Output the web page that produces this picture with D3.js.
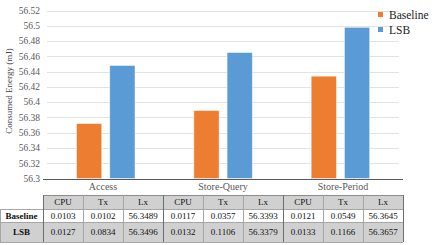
<!DOCTYPE html>
<html>
<head>
<meta charset="utf-8">
<script src="https://cdn.jsdelivr.net/npm/d3@7"></script>
<style>
  body { margin: 0; background: #fff; }
  svg text { font-family: "Times New Roman", "Liberation Serif", "DejaVu Serif", serif; }
</style>
</head>
<body>
<div id="chart"></div>
<script>
const categories = ["Access", "Store-Query", "Store-Period"];
const series = ["Baseline", "LSB"];
const baselineEnergy = [56.372, 56.389, 56.434];
const lsbEnergy = [56.448, 56.465, 56.498];
const yTicks = [56.3, 56.32, 56.34, 56.36, 56.38, 56.4, 56.42, 56.44, 56.46, 56.48, 56.5, 56.52];
const columns = ["CPU", "Tx", "Lx"];
const baselineTable = [["0.0103", "0.0102", "56.3489"], ["0.0117", "0.0357", "56.3393"], ["0.0121", "0.0549", "56.3645"]];
const lsbTable = [["0.0127", "0.0834", "56.3496"], ["0.0132", "0.1106", "56.3379"], ["0.0133", "0.1166", "56.3657"]];

const colors = { Baseline: "#ED7D31", LSB: "#5B9BD5" };
const width = 436, height = 245;
const serif = "'Liberation Serif', 'Times New Roman', 'DejaVu Serif', serif";

const svg = d3.select("#chart").append("svg")
  .attr("width", width)
  .attr("height", height)
  .attr("font-family", serif);

const y = d3.scaleLinear().domain([56.3, 56.52]).range([178.5, 10.5]);
const x = d3.scaleBand().domain(categories).range([47, 399]);
const xs = d3.scaleBand().domain(series).range([29.5, 88]).paddingInner(0.24);

// gridlines
svg.append("g")
  .selectAll("line")
  .data(yTicks.slice(1))
  .join("line")
  .attr("x1", 47).attr("x2", 399)
  .attr("y1", d => Math.round(y(d)) + 0.5)
  .attr("y2", d => Math.round(y(d)) + 0.5)
  .attr("stroke", "#e3e3e3")
  .attr("stroke-width", 1);

// tick labels
svg.append("g")
  .selectAll("text")
  .data(yTicks)
  .join("text")
  .attr("x", 40)
  .attr("y", d => y(d))
  .attr("dy", "0.35em")
  .attr("text-anchor", "end")
  .attr("fill", "#595959")
  .style("font-size", "9.5px")
  .text(d => String(+d.toFixed(2)));

svg.append("text")
  .attr("transform", "translate(12,91) rotate(-90)")
  .attr("text-anchor", "middle")
  .attr("fill", "#404040")
  .style("font-size", "9px")
  .text("Consumed Energy (mJ)");

// bars
const rows = categories.map((c, i) => ({ cat: c, Baseline: baselineEnergy[i], LSB: lsbEnergy[i] }));
const grp = svg.append("g")
  .selectAll("g")
  .data(rows)
  .join("g")
  .attr("transform", d => `translate(${x(d.cat)},0)`);

grp.selectAll("rect")
  .data(d => series.map(s => ({ s, v: d[s] })))
  .join("rect")
  .attr("x", d => xs(d.s))
  .attr("width", xs.bandwidth())
  .attr("y", d => y(d.v))
  .attr("height", d => y(56.3) - y(d.v))
  .attr("fill", d => colors[d.s])
  .attr("stroke", "#fff")
  .attr("stroke-opacity", 0.6)
  .attr("stroke-width", 0.8);

// axis line
svg.append("line")
  .attr("x1", 43).attr("x2", 403)
  .attr("y1", 179.5).attr("y2", 179.5)
  .attr("stroke", "#595959");

// legend
const legend = svg.append("g")
  .selectAll("g")
  .data(series)
  .join("g")
  .attr("transform", (d, i) => `translate(378,${14 + i * 15})`);
legend.append("rect")
  .attr("width", 5).attr("height", 5)
  .attr("y", -2)
  .attr("fill", d => colors[d]);
legend.append("text")
  .attr("x", 11)
  .attr("dy", "0.4em")
  .attr("fill", "#222")
  .style("font-size", "11.5px")
  .text(d => d);

// data table
const tx = d3.scaleBand().domain(categories).range([43, 403]);
const cw = tx.bandwidth() / columns.length;
const rowY = [195, 209, 222, 242];
const table = svg.append("g");

svg.selectAll(".cat")
  .data(categories)
  .join("text")
  .attr("class", "cat")
  .attr("x", d => tx(d) + tx.bandwidth() / 2)
  .attr("y", 190)
  .attr("text-anchor", "middle")
  .attr("fill", "#595959")
  .style("font-size", "10px")
  .text(d => d);

// fills
table.append("rect").attr("x", 43).attr("y", rowY[0]).attr("width", 360).attr("height", rowY[1] - rowY[0]).attr("fill", "#d0d0d0");
table.append("rect").attr("x", 0).attr("y", rowY[2]).attr("width", 403).attr("height", rowY[3] - rowY[2]).attr("fill", "#d0d0d0");

// horizontal lines
table.append("line").attr("x1", 43).attr("x2", 403).attr("y1", rowY[0] + 0.5).attr("y2", rowY[0] + 0.5).attr("stroke", "#8c8c8c");
[rowY[1], rowY[2], rowY[3]].forEach(yy => {
  table.append("line").attr("x1", 0).attr("x2", 403).attr("y1", yy + 0.5).attr("y2", yy + 0.5).attr("stroke", "#a6a6a6");
});

// vertical lines
const inner = [];
categories.forEach(c => { inner.push(tx(c) + cw, tx(c) + 2 * cw); });
inner.forEach(xx => {
  table.append("line").attr("x1", xx + 0.5).attr("x2", xx + 0.5).attr("y1", rowY[0]).attr("y2", rowY[3]).attr("stroke", "#a6a6a6");
});
[43, 163, 283, 403].forEach(xx => {
  table.append("line").attr("x1", xx + 0.5).attr("x2", xx + 0.5).attr("y1", rowY[0]).attr("y2", rowY[3]).attr("stroke", "#6e6e6e");
});
table.append("line").attr("x1", 0.5).attr("x2", 0.5).attr("y1", rowY[1]).attr("y2", rowY[3]).attr("stroke", "#a6a6a6");

// header text
categories.forEach(c => {
  columns.forEach((col, j) => {
    table.append("text")
      .attr("x", tx(c) + cw * (j + 0.5))
      .attr("y", (rowY[0] + rowY[1]) / 2)
      .attr("dy", "0.35em")
      .attr("text-anchor", "middle")
      .attr("fill", "#111")
      .style("font-size", "9px")
      .text(col);
  });
});

// row labels and values
[baselineTable, lsbTable].forEach((tbl, r) => {
  const cy = (rowY[r + 1] + rowY[r + 2]) / 2;
  table.append("text")
    .attr("x", 21.5)
    .attr("y", cy)
    .attr("dy", "0.35em")
    .attr("text-anchor", "middle")
    .attr("fill", "#111")
    .style("font-size", "9px")
    .style("font-weight", "bold")
    .text(series[r]);
  categories.forEach((c, i) => {
    tbl[i].forEach((v, j) => {
      table.append("text")
        .attr("x", tx(c) + cw * (j + 0.5))
        .attr("y", cy)
        .attr("dy", "0.35em")
        .attr("text-anchor", "middle")
        .attr("fill", "#111")
        .style("font-size", "9px")
        .text(v);
    });
  });
});
</script>
</body>
</html>
